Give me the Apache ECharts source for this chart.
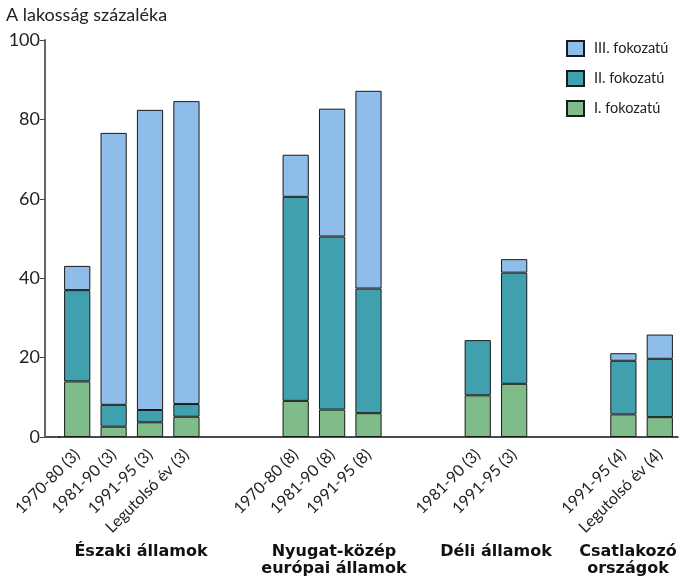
<!DOCTYPE html>
<html>
<head>
<meta charset="utf-8">
<script src="https://cdn.jsdelivr.net/npm/echarts@6/dist/echarts.min.js"></script>
<style>
html,body{margin:0;padding:0;background:#fff;}
#c{width:680px;height:576px;}
</style>
</head>
<body>
<div id="c"></div>
<script>
const categories = ['1970-80 (3)','1981-90 (3)','1991-95 (3)','Legutolsó év (3)','',' ',
  '1970-80 (8)','1981-90 (8)','1991-95 (8)','  ','   ',
  '1981-90 (3)','1991-95 (3)','    ','     ',
  '1991-95 (4)','Legutolsó év (4)'];
const seriesI   = [14.0, 2.6, 3.7, 5.1, null, null, 9.1, 6.9, 6.0, null, null, 10.5, 13.4, null, null, 5.7, 5.0];
const seriesII  = [23.0, 5.5, 3.1, 3.2, null, null, 51.4, 43.6, 31.4, null, null, 13.9, 28.0, null, null, 13.5, 14.7];
const seriesIII = [6.1, 68.5, 75.6, 76.3, null, null, 10.6, 32.2, 49.8, null, null, null, 3.4, null, null, 1.9, 6.1];
const yTicks = [0, 20, 40, 60, 80, 100];
const longTickIdx = [5, 10, 14];
const groupLabels = ['Északi államok', 'Nyugat-közép\neurópai államok', 'Déli államok', 'Csatlakozó\nországok'];

const FONT = 'Lato, "Noto Sans", sans-serif';
const BOLD = '"DejaVu Sans", sans-serif';
const chart = echarts.init(document.getElementById('c'));
const border = {borderColor: '#1a1a1a', borderWidth: 1};
function bar(name, data, color) {
  return {
    name, type: 'bar', stack: 'a', data,
    barCategoryGap: '28%',
    itemStyle: Object.assign({color}, border),
    emphasis: {disabled: true}
  };
}
function groupText(text, x, y) {
  return {type: 'text', x, y, style: {text, font: 'bold 16px ' + BOLD, fill: '#111',
    align: 'center', verticalAlign: 'top', lineHeight: 17}};
}
chart.setOption({
  animation: false,
  textStyle: {fontFamily: FONT, color: '#222'},
  grid: {left: 59, right: 2, top: 40, bottom: 139},
  title: {text: 'A lakosság százaléka', left: 1, top: 1,
    textStyle: {fontFamily: FONT, fontSize: 18, fontWeight: 'normal', color: '#222'}},
  legend: {
    orient: 'vertical', left: 561, top: 35,
    itemWidth: 17, itemHeight: 15, itemGap: 13,
    icon: 'rect',
    data: ['III. fokozatú', 'II. fokozatú', 'I. fokozatú'],
    textStyle: {fontFamily: FONT, fontSize: 14.5, color: '#222', padding: [0, 0, 0, 5]}
  },
  xAxis: [{
    type: 'category', data: categories,
    axisLine: {lineStyle: {color: '#111', width: 1.5}},
    axisTick: {length: 6, lineStyle: {color: '#111'}, interval: (i) => i > 0},
    axisLabel: {rotate: 45, fontSize: 16, color: '#222', margin: 15, interval: 0, fontFamily: FONT}
  }, {
    type: 'category', data: categories, position: 'bottom',
    axisLine: {show: false},
    axisTick: {length: 11, lineStyle: {color: '#111'}, interval: (i) => longTickIdx.includes(i)},
    axisLabel: {show: false}
  }],
  yAxis: {
    type: 'value', min: yTicks[0], max: yTicks[yTicks.length - 1], interval: 20,
    offset: 14,
    axisLine: {show: true, lineStyle: {color: '#666', width: 2}},
    axisTick: {show: true, length: 5, lineStyle: {color: '#444'}},
    splitLine: {show: false},
    axisLabel: {fontSize: 18, color: '#222', margin: 5, fontFamily: FONT}
  },
  series: [
    bar('I. fokozatú', seriesI, '#80bb8a'),
    bar('II. fokozatú', seriesII, '#40a0ae'),
    bar('III. fokozatú', seriesIII, '#8fbde9')
  ],
  graphic: [
    {type: 'line', shape: {x1: 45, y1: 437, x2: 60, y2: 437}, style: {stroke: '#111', lineWidth: 1.5}},
    groupText(groupLabels[0], 141, 543),
    groupText(groupLabels[1], 334, 543),
    groupText(groupLabels[2], 496, 543),
    groupText(groupLabels[3], 628, 543)
  ]
});
</script>
</body>
</html>
